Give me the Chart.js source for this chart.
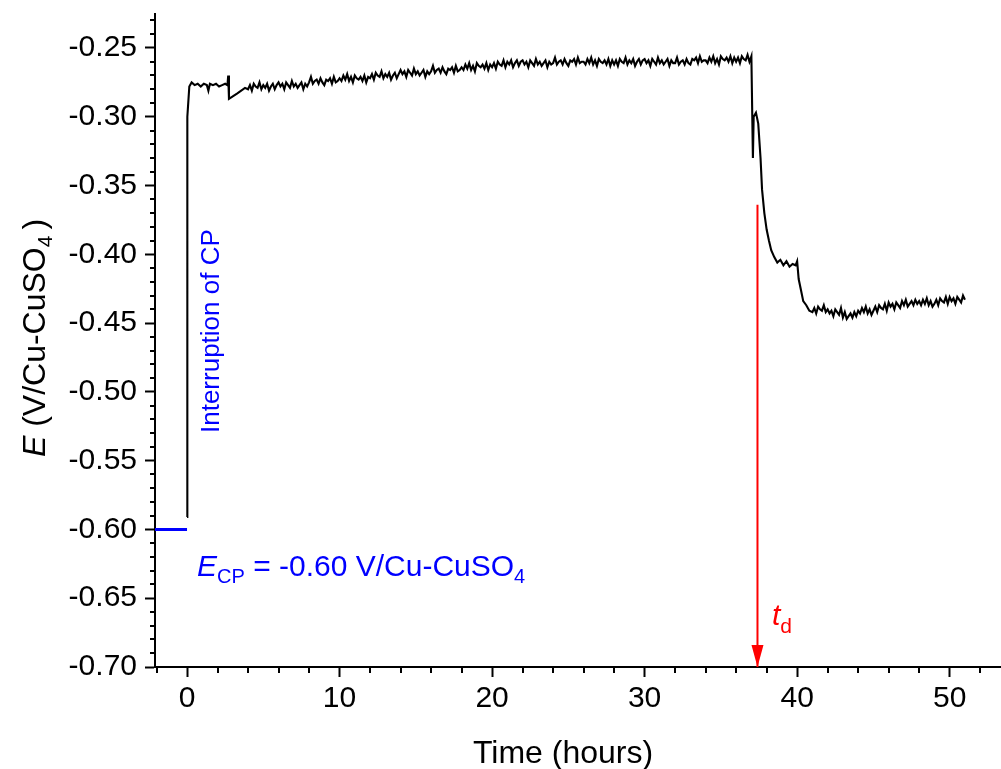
<!DOCTYPE html>
<html>
<head>
<meta charset="utf-8">
<script src="https://cdn.jsdelivr.net/npm/chart.js@4.4.1/dist/chart.umd.min.js"></script>
<style>
  html, body { margin: 0; padding: 0; background: #ffffff; }
  #wrap { width: 1001px; height: 769px; }
</style>
</head>
<body>
<div id="wrap"><canvas id="c" width="1001" height="769"></canvas></div>
<script>
// ---------------- data ----------------
// Open-circuit potential after interruption of CP (time in hours, E in V/Cu-CuSO4)
const startTimes = [0, 0.02, 0.15, 0.3, 0.5, 0.7, 0.9, 1.1, 1.3, 1.4, 1.5, 1.7, 1.9, 2.1, 2.3, 2.5, 2.65, 2.7, 2.75, 3.3, 3.8];
const startValues = [-0.591, -0.300, -0.278, -0.275, -0.277, -0.276, -0.278, -0.276, -0.277, -0.281, -0.276, -0.277, -0.276, -0.278, -0.277, -0.276, -0.277, -0.270, -0.287, -0.283, -0.279];

const midTimes = [
  4.0, 4.125, 4.25, 4.375, 4.5, 4.625, 4.75, 4.875, 5.0, 5.125, 5.25, 5.375, 5.5, 5.625, 5.75, 5.875,
  6.0, 6.125, 6.25, 6.375, 6.5, 6.625, 6.75, 6.875, 7.0, 7.125, 7.25, 7.375, 7.5, 7.625, 7.75, 7.875,
  8.0, 8.125, 8.25, 8.375, 8.5, 8.625, 8.75, 8.875, 9.0, 9.125, 9.25, 9.375, 9.5, 9.625, 9.75, 9.875,
  10.0, 10.125, 10.25, 10.375, 10.5, 10.625, 10.75, 10.875, 11.0, 11.125, 11.25, 11.375, 11.5, 11.625, 11.75, 11.875,
  12.0, 12.125, 12.25, 12.375, 12.5, 12.625, 12.75, 12.875, 13.0, 13.125, 13.25, 13.375, 13.5, 13.625, 13.75, 13.875,
  14.0, 14.125, 14.25, 14.375, 14.5, 14.625, 14.75, 14.875, 15.0, 15.125, 15.25, 15.375, 15.5, 15.625, 15.75, 15.875,
  16.0, 16.125, 16.25, 16.375, 16.5, 16.625, 16.75, 16.875, 17.0, 17.125, 17.25, 17.375, 17.5, 17.625, 17.75, 17.875,
  18.0, 18.125, 18.25, 18.375, 18.5, 18.625, 18.75, 18.875, 19.0, 19.125, 19.25, 19.375, 19.5, 19.625, 19.75, 19.875,
  20.0, 20.125, 20.25, 20.375, 20.5, 20.625, 20.75, 20.875, 21.0, 21.125, 21.25, 21.375, 21.5, 21.625, 21.75, 21.875,
  22.0, 22.125, 22.25, 22.375, 22.5, 22.625, 22.75, 22.875, 23.0, 23.125, 23.25, 23.375, 23.5, 23.625, 23.75, 23.875,
  24.0, 24.125, 24.25, 24.375, 24.5, 24.625, 24.75, 24.875, 25.0, 25.125, 25.25, 25.375, 25.5, 25.625, 25.75, 25.875,
  26.0, 26.125, 26.25, 26.375, 26.5, 26.625, 26.75, 26.875, 27.0, 27.125, 27.25, 27.375, 27.5, 27.625, 27.75, 27.875,
  28.0, 28.125, 28.25, 28.375, 28.5, 28.625, 28.75, 28.875, 29.0, 29.125, 29.25, 29.375, 29.5, 29.625, 29.75, 29.875,
  30.0, 30.125, 30.25, 30.375, 30.5, 30.625, 30.75, 30.875, 31.0, 31.125, 31.25, 31.375, 31.5, 31.625, 31.75, 31.875,
  32.0, 32.125, 32.25, 32.375, 32.5, 32.625, 32.75, 32.875, 33.0, 33.125, 33.25, 33.375, 33.5, 33.625, 33.75, 33.875,
  34.0, 34.125, 34.25, 34.375, 34.5, 34.625, 34.75, 34.875, 35.0, 35.125, 35.25, 35.375, 35.5, 35.625, 35.75, 35.875,
  36.0, 36.125, 36.25, 36.375, 36.5, 36.625, 36.75, 36.875, 37.0
];
const midValues = [
  -0.280, -0.277, -0.281, -0.276, -0.278, -0.279, -0.275, -0.280, -0.277, -0.279, -0.276, -0.281, -0.278, -0.276, -0.280, -0.277,
  -0.275, -0.278, -0.276, -0.280, -0.275, -0.277, -0.279, -0.274, -0.278, -0.276, -0.279, -0.277, -0.275, -0.280, -0.276, -0.278,
  -0.275, -0.271, -0.276, -0.274, -0.273, -0.276, -0.272, -0.275, -0.277, -0.273, -0.274, -0.272, -0.276, -0.271, -0.275, -0.274,
  -0.272, -0.274, -0.270, -0.273, -0.269, -0.274, -0.271, -0.275, -0.270, -0.272, -0.273, -0.271, -0.274, -0.270, -0.275, -0.271,
  -0.272, -0.269, -0.273, -0.268, -0.270, -0.271, -0.267, -0.272, -0.269, -0.271, -0.268, -0.273, -0.270, -0.268, -0.272, -0.269,
  -0.266, -0.269, -0.267, -0.271, -0.266, -0.268, -0.270, -0.265, -0.269, -0.267, -0.270, -0.268, -0.266, -0.271, -0.267, -0.269,
  -0.267, -0.263, -0.268, -0.266, -0.265, -0.268, -0.264, -0.267, -0.269, -0.265, -0.266, -0.264, -0.268, -0.263, -0.267, -0.266,
  -0.264, -0.266, -0.262, -0.265, -0.261, -0.266, -0.263, -0.267, -0.261, -0.263, -0.264, -0.262, -0.265, -0.261, -0.266, -0.262,
  -0.264, -0.261, -0.265, -0.260, -0.262, -0.263, -0.259, -0.264, -0.260, -0.262, -0.259, -0.264, -0.261, -0.259, -0.263, -0.260,
  -0.259, -0.262, -0.260, -0.264, -0.259, -0.261, -0.263, -0.258, -0.262, -0.260, -0.263, -0.261, -0.259, -0.264, -0.260, -0.262,
  -0.261, -0.257, -0.262, -0.260, -0.259, -0.262, -0.258, -0.261, -0.263, -0.259, -0.260, -0.258, -0.262, -0.257, -0.261, -0.260,
  -0.260, -0.262, -0.258, -0.261, -0.257, -0.262, -0.259, -0.263, -0.258, -0.260, -0.261, -0.259, -0.262, -0.258, -0.263, -0.259,
  -0.262, -0.259, -0.263, -0.258, -0.260, -0.261, -0.257, -0.262, -0.259, -0.261, -0.258, -0.263, -0.260, -0.258, -0.262, -0.259,
  -0.258, -0.261, -0.259, -0.263, -0.258, -0.260, -0.262, -0.257, -0.261, -0.259, -0.262, -0.260, -0.258, -0.263, -0.259, -0.261,
  -0.261, -0.257, -0.262, -0.260, -0.259, -0.262, -0.258, -0.261, -0.262, -0.258, -0.259, -0.257, -0.261, -0.256, -0.260, -0.259,
  -0.259, -0.261, -0.257, -0.260, -0.256, -0.261, -0.258, -0.262, -0.256, -0.258, -0.259, -0.257, -0.260, -0.256, -0.261, -0.257,
  -0.260, -0.257, -0.261, -0.256, -0.258, -0.259, -0.255, -0.260, -0.256
];

const dropTimes = [
  37.1, 37.15, 37.3, 37.45, 37.6, 37.7, 37.85, 38.0, 38.15, 38.3, 38.5, 38.7, 38.9,
  39.1, 39.3, 39.5, 39.7, 39.9, 40.0, 40.1, 40.25, 40.4, 40.6, 40.8
];
const dropValues = [
  -0.330, -0.300, -0.297, -0.305, -0.330, -0.353, -0.370, -0.382, -0.390, -0.397, -0.402, -0.406, -0.404,
  -0.408, -0.405, -0.409, -0.407, -0.408, -0.405, -0.418, -0.426, -0.434, -0.437, -0.441
];

const endTimes = [
  41.0, 41.125, 41.25, 41.375, 41.5, 41.625, 41.75, 41.875,
  42.0, 42.125, 42.25, 42.375, 42.5, 42.625, 42.75, 42.875,
  43.0, 43.125, 43.25, 43.375, 43.5, 43.625, 43.75, 43.875,
  44.0, 44.125, 44.25, 44.375, 44.5, 44.625, 44.75, 44.875,
  45.0, 45.125, 45.25, 45.375, 45.5, 45.625, 45.75, 45.875,
  46.0, 46.125, 46.25, 46.375, 46.5, 46.625, 46.75, 46.875,
  47.0, 47.125, 47.25, 47.375, 47.5, 47.625, 47.75, 47.875,
  48.0, 48.125, 48.25, 48.375, 48.5, 48.625, 48.75, 48.875,
  49.0, 49.125, 49.25, 49.375, 49.5, 49.625, 49.75, 49.875,
  50.0, 50.125, 50.25, 50.375, 50.5, 50.625, 50.75, 50.875, 51.0
];
const endValues = [
  -0.442, -0.439, -0.443, -0.438, -0.440, -0.441, -0.437, -0.442,
  -0.440, -0.443, -0.441, -0.445, -0.440, -0.442, -0.444, -0.439,
  -0.446, -0.442, -0.447, -0.445, -0.443, -0.446, -0.442, -0.445,
  -0.441, -0.443, -0.439, -0.442, -0.438, -0.443, -0.440, -0.444,
  -0.441, -0.438, -0.442, -0.437, -0.439, -0.440, -0.436, -0.441,
  -0.435, -0.438, -0.436, -0.440, -0.435, -0.437, -0.439, -0.434,
  -0.437, -0.433, -0.438, -0.436, -0.434, -0.437, -0.433, -0.436,
  -0.434, -0.437, -0.433, -0.436, -0.432, -0.437, -0.434, -0.438,
  -0.436, -0.433, -0.437, -0.432, -0.434, -0.435, -0.431, -0.436,
  -0.431, -0.434, -0.432, -0.436, -0.431, -0.433, -0.435, -0.430, -0.433
];

// Potential under cathodic protection, before interruption
const cpTimes = [-2.1, 0];
const cpValues = [-0.60, -0.60];

// Depolarisation time marker
const tdTime = 37.4;
const tdFrom = -0.364;
const tdTo = -0.70;

// Axis ticks
const xTicks = [0, 10, 20, 30, 40, 50];
const yTicks = [-0.70, -0.65, -0.60, -0.55, -0.50, -0.45, -0.40, -0.35, -0.30, -0.25];
const xMinorStep = 2;
const yMinorStep = 0.01;

// ---------------- build ----------------
const timeAll = startTimes.concat(midTimes, dropTimes, endTimes);
const valueAll = startValues.concat(midValues, dropValues, endValues);
const potentialPoints = timeAll.map((t, i) => ({ x: t, y: valueAll[i] }));
const cpPoints = cpTimes.map((t, i) => ({ x: t, y: cpValues[i] }));
const tdPoints = [{ x: tdTime, y: tdFrom }, { x: tdTime, y: tdTo }];

const FONT = "'Liberation Sans', Arial, sans-serif";

function drawRich(ctx, parts, x, y, rot, align) {
  ctx.save();
  ctx.translate(x, y);
  if (rot) ctx.rotate(rot);
  ctx.textBaseline = 'alphabetic';
  ctx.textAlign = 'left';
  let total = 0;
  parts.forEach(p => {
    ctx.font = (p.italic ? 'italic ' : '') + p.size + 'px ' + FONT;
    p.w = ctx.measureText(p.t).width + (p.gap || 0);
    total += p.w;
  });
  let cx = align === 'center' ? -total / 2 : 0;
  parts.forEach(p => {
    ctx.font = (p.italic ? 'italic ' : '') + p.size + 'px ' + FONT;
    ctx.fillStyle = p.color;
    ctx.fillText(p.t, cx, p.dy || 0);
    cx += p.w;
  });
  ctx.restore();
}

const decor = {
  id: 'decor',
  afterDraw(chart) {
    const ctx = chart.ctx;
    const xs = chart.scales.x, ys = chart.scales.y;
    const area = chart.chartArea;
    ctx.save();
    ctx.strokeStyle = '#000';
    ctx.lineWidth = 2;
    // minor ticks x
    for (let v = -2; v <= 53; v += xMinorStep) {
      if (v % 10 === 0 || v < xs.min) continue;
      const px = Math.round(xs.getPixelForValue(v));
      ctx.beginPath(); ctx.moveTo(px, area.bottom); ctx.lineTo(px, area.bottom + 6); ctx.stroke();
    }
    // minor ticks y
    for (let k = -70; k <= -23; k++) {
      if (k % 5 === 0) continue;
      const py = Math.round(ys.getPixelForValue(k * yMinorStep));
      ctx.beginPath(); ctx.moveTo(area.left, py); ctx.lineTo(area.left - 5, py); ctx.stroke();
    }
    // red arrow head
    const ax = xs.getPixelForValue(tdTime);
    const ay = ys.getPixelForValue(tdTo);
    ctx.fillStyle = '#ff0000';
    ctx.beginPath();
    ctx.moveTo(ax, ay);
    ctx.lineTo(ax - 6, ay - 22);
    ctx.lineTo(ax + 6, ay - 22);
    ctx.closePath();
    ctx.fill();
    ctx.restore();

    // y-axis title
    drawRich(ctx, [
      { t: 'E', italic: true, size: 32, color: '#000' },
      { t: ' (V/Cu-CuSO', size: 32, color: '#000' },
      { t: '4', size: 21, dy: 7, color: '#000', gap: 6 },
      { t: ')', size: 32, color: '#000' }
    ], 45, 338, -Math.PI / 2, 'center');

    // x-axis title
    drawRich(ctx, [{ t: 'Time (hours)', size: 32, color: '#000' }], 563, 763, 0, 'center');

    // E_CP annotation
    drawRich(ctx, [
      { t: 'E', italic: true, size: 30, color: '#0000ff' },
      { t: 'CP', size: 20, dy: 7, color: '#0000ff' },
      { t: ' = -0.60 V/Cu-CuSO', size: 30, color: '#0000ff' },
      { t: '4', size: 20, dy: 7, color: '#0000ff' }
    ], 197, 576, 0, 'left');

    // Interruption of CP
    drawRich(ctx, [{ t: 'Interruption of CP', size: 26, color: '#0000ff' }], 219, 433, -Math.PI / 2, 'left');

    // t_d
    drawRich(ctx, [
      { t: 't', italic: true, size: 30, color: '#ff0000' },
      { t: 'd', size: 21, dy: 8, color: '#ff0000' }
    ], 772, 625, 0, 'left');
  }
};

new Chart(document.getElementById('c'), {
  type: 'scatter',
  data: {
    datasets: [
      { data: cpPoints, showLine: true, borderColor: '#0000ff', borderWidth: 3, pointRadius: 0 },
      { data: potentialPoints, showLine: true, borderColor: '#000000', borderWidth: 2.1, pointRadius: 0, tension: 0 },
      { data: tdPoints, showLine: true, borderColor: '#ff0000', borderWidth: 2, pointRadius: 0 }
    ]
  },
  options: {
    responsive: false,
    animation: false,
    devicePixelRatio: 1,
    layout: { padding: { top: 14, right: 1, left: 0, bottom: 0 } },
    plugins: { legend: { display: false }, tooltip: { enabled: false } },
    scales: {
      x: {
        type: 'linear',
        min: -2.1, max: 53.3,
        afterBuildTicks: s => { s.ticks = xTicks.map(v => ({ value: v })); },
        afterFit: s => { s.height = 102; s.paddingLeft = 0; s.paddingRight = 0; },
        grid: { drawOnChartArea: false, drawTicks: true, tickLength: 10, tickWidth: 2, tickColor: '#000' },
        border: { display: true, color: '#000', width: 2 },
        ticks: { color: '#000', font: { family: FONT, size: 30 }, padding: 4, maxRotation: 0, autoSkip: false }
      },
      y: {
        type: 'linear',
        min: -0.70, max: -0.2253,
        afterBuildTicks: s => { s.ticks = yTicks.map(v => ({ value: v })); },
        afterFit: s => { s.width = 155; s.paddingTop = 0; s.paddingBottom = 0; },
        grid: { drawOnChartArea: false, drawTicks: true, tickLength: 10, tickWidth: 2, tickColor: '#000' },
        border: { display: true, color: '#000', width: 2 },
        ticks: { color: '#000', font: { family: FONT, size: 30 }, padding: 8, autoSkip: false,
                 callback: v => Number(v).toFixed(2) }
      }
    }
  },
  plugins: [decor]
});
</script>
</body>
</html>
